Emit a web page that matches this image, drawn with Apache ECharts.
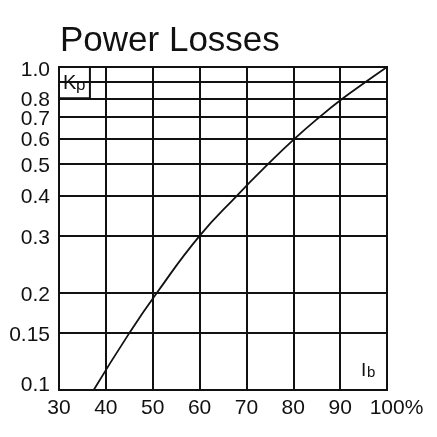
<!DOCTYPE html>
<html>
<head>
<meta charset="utf-8">
<script src="https://cdn.jsdelivr.net/npm/echarts@6/dist/echarts.min.js"></script>
<style>
  html, body { margin: 0; padding: 0; background: #fff; }
  #chart { width: 437px; height: 437px; }
</style>
</head>
<body>
<div id="chart"></div>
<script>
// Kp curve (Ib in %, Kp on a log scale)
const ibValues = [37.4, 45.0, 50.9, 60.0, 68.0, 74.6, 80.3, 85.6, 90.6, 95.5, 100]
const kpValues = [0.1, 0.15, 0.2, 0.3, 0.4, 0.5, 0.6, 0.7, 0.8, 0.9, 1.0]

// horizontal grid lines and their labels (0.9 has a line but no label)
const kpGrid   = [0.1, 0.15, 0.2, 0.3, 0.4, 0.5, 0.6, 0.7, 0.8, 0.9, 1.0]
const kpLabels = ['0.1', '0.15', '0.2', '0.3', '0.4', '0.5', '0.6', '0.7', '0.8', '', '1.0']

const xTicks = [30, 40, 50, 60, 70, 80, 90, 100]

const FONT = 'Liberation Sans, Arial, sans-serif'
const INK  = '#111'
const LINE = 2

const chart = echarts.init(document.getElementById('chart'), null, { renderer: 'canvas' })

// small nudge so labels sit like the print (bottom one lifted, top one lowered)
const labelShift = v => (v === 0.1 ? -5 : v === 1.0 ? 3 : 2)

// plain text helper for the two axis-name labels drawn inside the plot
const txt = (s, left, top, size) => ({
  type: 'text', left, top, z: 100,
  style: { text: s, font: size + 'px "Liberation Sans", Arial, sans-serif', fill: INK },
})

chart.setOption({
  animation: false,
  backgroundColor: '#fff',
  title: {
    text: 'Power Losses',
    left: 55,
    top: 19,
    textStyle: { fontFamily: FONT, fontSize: 35, fontWeight: 'normal', color: INK },
  },
  grid: {
    left: 59, right: 50, top: 67, bottom: 47,
    show: true, borderColor: INK, borderWidth: LINE,
  },
  xAxis: {
    type: 'value',
    min: 30, max: 100, interval: 10,
    axisLine: { show: true, lineStyle: { color: INK, width: LINE } },
    axisTick: { show: false },
    axisLabel: {
      fontFamily: FONT, fontSize: 21, color: INK, margin: 8,
      formatter: v => {
        if (!xTicks.includes(v)) return ''
        return v === 100 ? '{pct|100%}' : String(v)
      },
      rich: {
        pct: { fontFamily: FONT, fontSize: 21, color: INK, padding: [0, 0, 0, 19] },
      },
    },
    splitLine: { show: true, lineStyle: { color: INK, width: LINE } },
  },
  yAxis: {
    type: 'log',
    logBase: 10,
    min: 0.1, max: 1.0,
    axisLine: { show: false },
    axisTick: { show: false },
    axisLabel: { show: false },
    splitLine: { show: false },
  },
  graphic: [
    txt('K', 63, 73, 20),
    txt('p', 76, 77, 17),
    txt('I', 361, 361, 19),
    txt('b', 367, 365, 15),
  ],
  series: [
    {
      // grid lines at the Kp ticks, labels on the left
      type: 'line',
      data: [],
      z: 1,
      markLine: {
        silent: true,
        symbol: 'none',
        lineStyle: { color: INK, width: LINE, type: 'solid' },
        label: {
          position: 'start',
          distance: 9,
          fontFamily: FONT, fontSize: 21, color: INK,
          formatter: p => kpLabels[kpGrid.indexOf(p.value)] ?? '',
        },
        data: kpGrid.map(v => ({ yAxis: v, label: { offset: [0, labelShift(v)] } })),
      },
    },
    {
      // white corner box that hides the 0.9 line behind "Kp"
      type: 'line',
      data: [],
      z: 3,
      markArea: {
        silent: true,
        itemStyle: { color: '#fff', borderColor: INK, borderWidth: LINE },
        data: [[{ xAxis: 30, yAxis: 0.8 }, { xAxis: 36.6, yAxis: 1.0 }]],
      },
    },
    {
      name: 'Kp',
      type: 'line',
      z: 4,
      smooth: 0.5,
      showSymbol: false,
      lineStyle: { color: INK, width: 1.8 },
      data: ibValues.map((x, i) => [x, kpValues[i]]),
    },
  ],
})
</script>
</body>
</html>
